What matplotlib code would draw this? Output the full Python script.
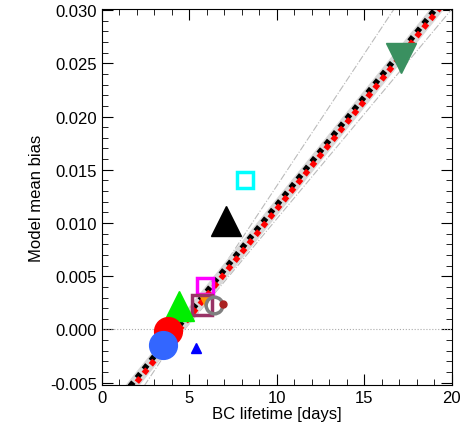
import numpy as np
import matplotlib.pyplot as plt
from matplotlib.ticker import MultipleLocator, FormatStrFormatter

plt.rcParams['font.family'] = ['Liberation Sans', 'DejaVu Sans']

# model points: BC lifetime [days], model mean bias
lifetime = [17.1, 8.2, 7.1, 5.9, 5.9, 5.7, 6.4, 6.9, 4.4, 3.8, 3.5, 5.4]
bias = [0.0255, 0.0140, 0.0102, 0.0041, 0.0028, 0.0023, 0.0023, 0.0024,
        0.0022, -0.0001, -0.0015, -0.0017]
markers = ['v', 's', '^', 's', 'v', 's', 'o', 'o', '^', 'o', 'o', '^']
colors = ['#3a9060', '#00ffff', 'black', '#ff00ff', '#ff9900', '#993366',
          'gray', '#aa2222', '#00ee00', 'red', '#3366ff', 'blue']
filled = [True, False, True, False, True, False, False, True, True, True, True, True]
sizes = [22, 12, 22, 12, 9, 14, 12, 5, 22, 20, 20, 7]

# regression line and envelope (slope, intercept)
fit = (0.00203, -0.0088)
upper = (0.00248, -0.0113)
lower = (0.00197, -0.0093)


def main():
    fig = plt.figure(figsize=(4.63, 4.35), dpi=100)
    ax = fig.add_axes([0.22, 0.113, 0.756, 0.864])

    xs = np.array([0, 20])
    ax.axhline(0, color='#aaaaaa', lw=0.8, ls=':')
    for s, b in (upper, lower):
        ax.plot(xs, s * xs + b, color='#bbbbbb', lw=0.8, ls='-.')
    ax.plot(xs, fit[0] * xs + fit[1], color='#d8d8d8', lw=8, ls='-')
    ax.plot(xs, fit[0] * xs + fit[1] + 0.0002, color='black', lw=4, ls=(0, (1, 1)))
    ax.plot(xs, fit[0] * xs + fit[1] - 0.0002, color='red', lw=4, ls=(0, (1, 1)))

    for x, y, m, c, f, s in zip(lifetime, bias, markers, colors, filled, sizes):
        if f:
            ax.plot(x, y, marker=m, color=c, ms=s, ls='none')
        else:
            ax.plot(x, y, marker=m, mfc='none', mec=c, mew=2.5, ms=s, ls='none')

    ax.set_xlim(0, 20)
    ax.set_ylim(-0.0052, 0.0301)
    ax.xaxis.set_major_locator(MultipleLocator(5))
    ax.xaxis.set_minor_locator(MultipleLocator(1))
    ax.yaxis.set_major_locator(MultipleLocator(0.005))
    ax.yaxis.set_minor_locator(MultipleLocator(0.001))
    ax.yaxis.set_major_formatter(FormatStrFormatter('%.3f'))
    ax.tick_params(which='both', direction='in', top=True, right=True, labelsize=12)
    ax.tick_params(which='major', length=8)
    ax.tick_params(which='minor', length=4.5)
    ax.set_xlabel('BC lifetime [days]', fontsize=12, labelpad=1)
    ax.set_ylabel('Model mean bias', fontsize=12, labelpad=4)

    fig.savefig('out.png')


if __name__ == '__main__':
    main()
